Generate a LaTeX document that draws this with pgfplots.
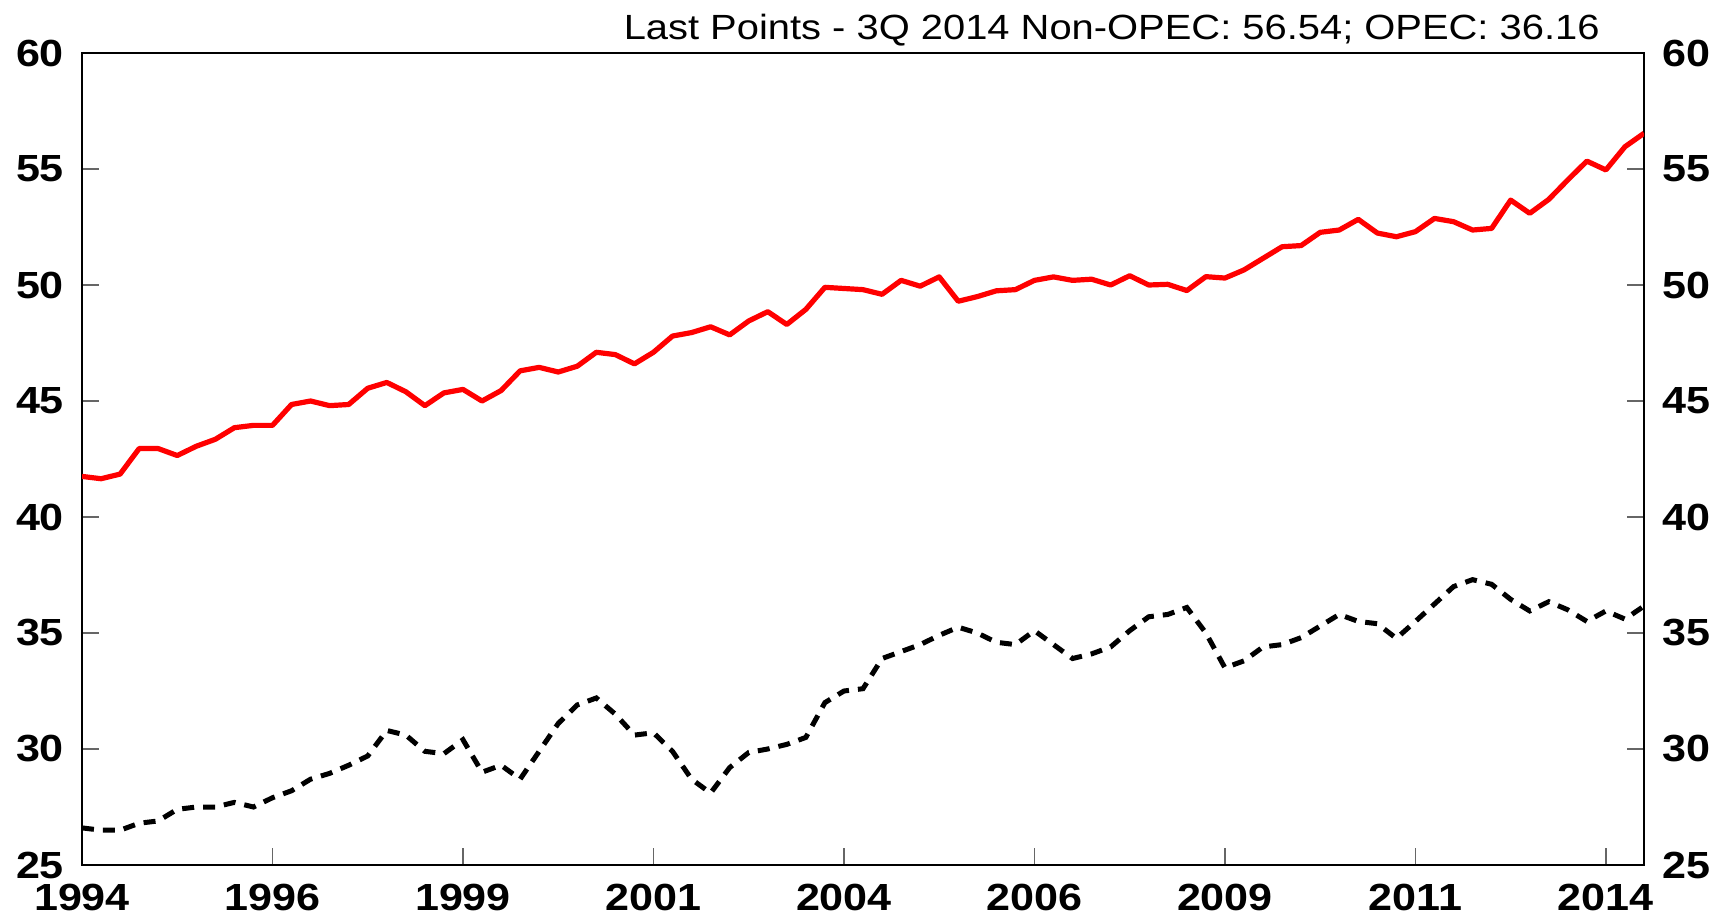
\documentclass[border=0pt]{standalone}
\usepackage{pgfplots}
\pgfplotsset{compat=1.18}
\usepackage{fontspec}
\setmainfont{Liberation Sans}[FakeStretch=1.14]

% quarterly, 1994Q1 = 0 ... 2014Q3 = 82
\pgfplotstableread{
q nonopec opec
0 41.75 26.6
1 41.65 26.5
2 41.85 26.5
3 42.95 26.8
4 42.95 26.9
5 42.65 27.4
6 43.05 27.5
7 43.35 27.5
8 43.85 27.7
9 43.95 27.5
10 43.95 27.9
11 44.85 28.2
12 45.0 28.7
13 44.8 28.95
14 44.85 29.3
15 45.55 29.7
16 45.8 30.8
17 45.4 30.6
18 44.8 29.9
19 45.35 29.8
20 45.5 30.4
21 45.0 29.0
22 45.45 29.3
23 46.3 28.7
24 46.45 29.9
25 46.25 31.1
26 46.5 31.9
27 47.1 32.2
28 47.0 31.5
29 46.6 30.6
30 47.1 30.7
31 47.8 29.9
32 47.95 28.7
33 48.2 28.1
34 47.85 29.2
35 48.45 29.85
36 48.85 30.0
37 48.3 30.2
38 48.95 30.5
39 49.9 32.0
40 49.85 32.5
41 49.8 32.6
42 49.6 33.9
43 50.2 34.2
44 49.95 34.5
45 50.35 34.9
46 49.3 35.25
47 49.5 35.0
48 49.75 34.6
49 49.8 34.5
50 50.2 35.1
51 50.35 34.5
52 50.2 33.9
53 50.25 34.1
54 50.0 34.4
55 50.4 35.1
56 50.0 35.7
57 50.03 35.8
58 49.76 36.1
59 50.36 35.0
60 50.3 33.5
61 50.65 33.8
62 51.15 34.4
63 51.65 34.5
64 51.7 34.8
65 52.27 35.3
66 52.37 35.8
67 52.83 35.5
68 52.24 35.4
69 52.08 34.77
70 52.3 35.5
71 52.87 36.25
72 52.73 37.0
73 52.37 37.3
74 52.44 37.1
75 53.66 36.45
76 53.09 35.95
77 53.69 36.35
78 54.53 36.0
79 55.34 35.5
80 54.96 35.95
81 55.96 35.6
82 56.54 36.16
}\oildata

\pgfplotsset{
  oilaxis/.style={
    at={(41pt,26.5pt)}, anchor=south west,
    scale only axis, width=781pt, height=406pt,
    xmin=0, xmax=82, ymin=25, ymax=60,
    ytick={25,30,...,60},
    xtick={0,10,...,80},
    tick align=inside,
    major tick length=8.5pt,
    tick style={gray!80!black, line width=0.6pt},
    axis line style={black, line width=1.3pt},
    ticklabel style={font=\fontsize{18.9}{20}\selectfont\bfseries},
    /pgf/number format/assume math mode=true,
  }
}

\begin{document}
\begin{tikzpicture}
\useasboundingbox (0,0) rectangle (859.5pt,459pt);
\begin{axis}[oilaxis,
    xtick pos=left, ytick pos=both,
    xticklabels={1994,1996,1999,2001,2004,2006,2009,2011,2014},
    yticklabel style={xshift=-5.5pt},
    xticklabel style={yshift=-6pt}]
  \addplot[red, line width=2.6pt, line join=round] table[x=q, y=nonopec] {\oildata};
  \addplot[black, line width=2.5pt, dash pattern=on 6pt off 4.5pt] table[x=q, y=opec] {\oildata};
\end{axis}
\begin{axis}[oilaxis,
    axis line style={draw=none},
    xtick=\empty,
    ytick pos=right,
    yticklabel pos=right,
    ytick style={draw=none},
    yticklabel style={xshift=5.5pt}]
  \addplot[draw=none] coordinates {(0,25) (82,60)};
\end{axis}
\node[anchor=base east, inner sep=0pt, font=\fontsize{17.5}{19}\selectfont] at (800pt,439pt)
  {Last Points - 3Q 2014 Non-OPEC: 56.54; OPEC: 36.16};
\end{tikzpicture}
\end{document}
